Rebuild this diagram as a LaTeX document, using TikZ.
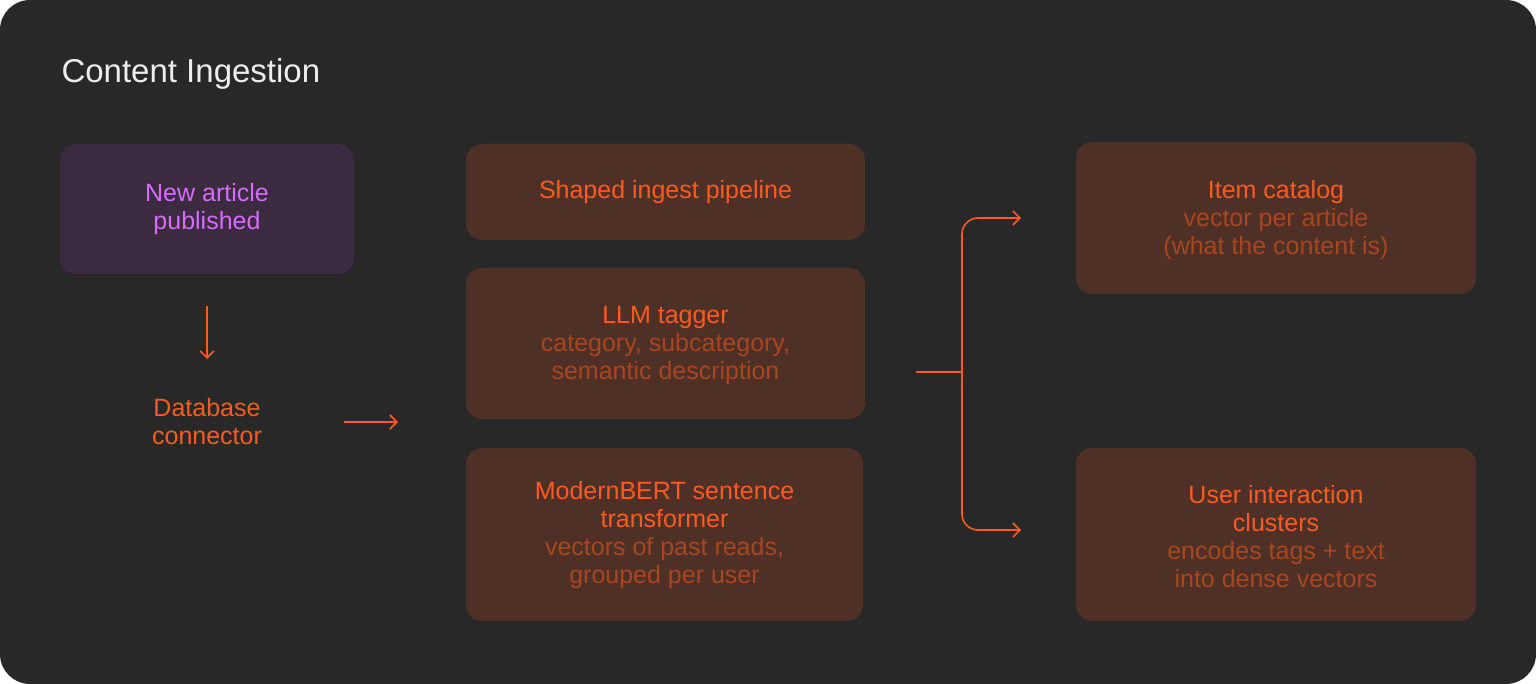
\documentclass[tikz,border=0pt]{standalone}
\usepackage{fontspec}
\setmainfont{Liberation Sans}
\usetikzlibrary{arrows.meta}
\definecolor{bg}{HTML}{282828}
\definecolor{boxc}{HTML}{4F3026}
\definecolor{orng}{HTML}{FF5A1F}
\definecolor{subc}{HTML}{A8461F}
\definecolor{pbox}{HTML}{3B2A40}
\definecolor{ptxt}{HTML}{D66BFF}
\definecolor{ttl}{HTML}{EDEDED}
\newcommand{\sub}[1]{{\color{subc}#1}}
\begin{document}
\begin{tikzpicture}[x=1pt,y=-1pt,
  box/.style={fill=boxc,rounded corners=16pt,draw=none},
  lbl/.style={align=center,text=orng,font=\fontsize{25}{28}\selectfont},
  arr/.style={draw=orng,line width=1.6pt,-{Straight Barb[length=7pt,width=14pt,line width=1.6pt]}}]
\fill[bg,rounded corners=30pt] (0,0) rectangle (1536,684);
\useasboundingbox (0,0) rectangle (1536,684);
\node[anchor=west,text=ttl,font=\fontsize{33}{36}\selectfont] (title) at (58,74) {Content Ingestion};
\fill[pbox,rounded corners=16pt] (60,144) rectangle (354,274);
\node[lbl,text=ptxt] (new) at (207,209) {New article\\published};
\fill[box] (466,144) rectangle (865,240);
\node[lbl] (shaped) at (665.5,192) {Shaped ingest pipeline};
\fill[box] (466,268) rectangle (865,419);
\node[lbl] (llm) at (665.5,345) {LLM tagger\\\sub{category, subcategory,}\\\sub{semantic description}};
\fill[box] (466,448) rectangle (863,621);
\node[lbl] (bert) at (664.5,535) {ModernBERT sentence\\transformer\\\sub{vectors of past reads,}\\\sub{grouped per user}};
\fill[box] (1076,142) rectangle (1476,294);
\node[lbl] (item) at (1276,220) {Item catalog\\\sub{vector per article}\\\sub{(what the content is)}};
\fill[box] (1076,448) rectangle (1476,621);
\node[lbl] (user) at (1276,537) {User interaction\\clusters\\\sub{encodes tags + text}\\\sub{into dense vectors}};
\node[lbl] (db) at (207,422) {Database\\connector};
\coordinate (d1) at (207,306); \coordinate (d2) at (207,359);
\draw[arr] (d1) -- (d2);
\coordinate (r1) at (344,422); \coordinate (r2) at (398,422);
\draw[arr] (r1) -- (r2);
\coordinate (b0) at (916,372); \coordinate (bj) at (962,372);
\coordinate (t1) at (1021,218); \coordinate (t2) at (1021,530);
\draw[draw=orng,line width=1.6pt] (b0) -- (bj);
\draw[arr,rounded corners=16pt] (bj) -- (962,218) -- (t1);
\draw[arr,rounded corners=16pt] (bj) -- (962,530) -- (t2);
\end{tikzpicture}
\end{document}
